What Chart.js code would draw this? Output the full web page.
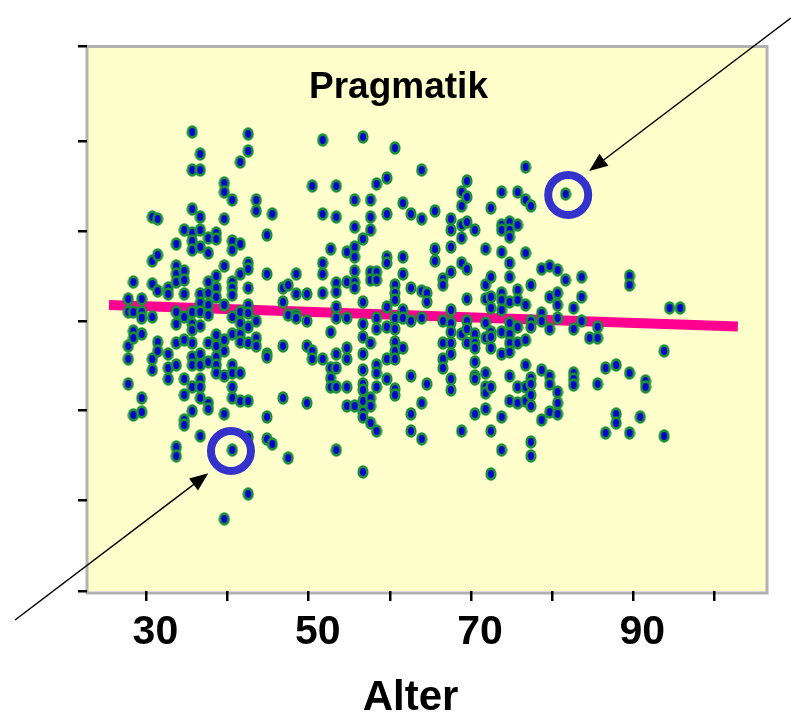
<!DOCTYPE html>
<html>
<head>
<meta charset="utf-8">
<title>Pragmatik</title>
<script src="https://cdn.jsdelivr.net/npm/chart.js@4"></script>
<style>
  html, body { margin: 0; padding: 0; background: #fff; }
  canvas { display: block; }
</style>
</head>
<body>
<canvas id="chartPragmatik" width="791" height="713"></canvas>
<script>
const chartTitle = 'Pragmatik';
const xTitle = 'Alter';
const xTicks = [30, 40, 50, 60, 70, 80, 90, 100];
const xLabels = [30, 50, 70, 90];
const yTicks = [0, 9.1, 18.1, 27, 36, 45, 54.5];

const ages = [27.77, 28.39, 29.42, 30.73, 31.39, 32.7, 33.68, 34.67, 35.65, 36.64, 37.63, 38.61, 39.6, 40.58, 41.57, 42.55, 43.54, 44.86, 45.51, 46.83, 47.48, 48.47, 49.79, 50.44, 51.72, 52.71, 53.4, 54.71, 55.66, 56.69, 57.63, 58.37, 59.64, 60.63, 61.61, 62.6, 63.92, 64.57, 65.56, 66.54, 67.53, 68.84, 69.5, 70.48, 71.8, 72.45, 73.77, 74.76, 75.74, 76.73, 77.38, 78.7, 79.69, 80.67, 81.66, 82.64, 83.63, 84.61, 85.6, 86.58, 87.89, 89.54, 90.85, 91.51, 93.8, 94.47, 95.78];
const scores = [
  [29.2, 27.9, 24.5, 23.2, 20.7],
  [30.9, 27.9, 26.0, 25.3, 17.6],
  [29.2, 27.9, 27.3, 25.7, 19.3, 17.9],
  [37.4, 33.0, 30.7, 27.4, 23.2, 22.1],
  [37.2, 33.6, 30.0, 24.9, 24.0],
  [30.3, 29.7, 23.7, 22.3, 21.2],
  [34.7, 32.5, 31.7, 30.9, 27.9, 26.7, 24.8, 22.6, 14.4, 13.5],
  [36.1, 32.0, 31.1, 29.7, 27.4, 25.1, 21.2, 19.6, 17.1, 16.6],
  [45.9, 42.1, 38.2, 35.8, 35.0, 34.1, 27.9, 26.7, 26.1, 24.8, 23.4, 22.6, 20.4, 18.0],
  [43.7, 42.1, 37.4, 36.1, 34.4, 29.7, 28.8, 27.9, 26.5, 23.7, 22.6, 21.2, 20.4, 19.3, 15.5],
  [35.3, 33.8, 30.9, 29.8, 28.6, 27.6, 24.8, 22.9, 18.8, 18.2],
  [35.8, 35.2, 31.5, 30.3, 29.4, 25.6, 24.5, 23.4, 22.6, 21.8],
  [40.8, 39.9, 37.2, 32.5, 28.6, 25.1, 24.0, 21.5, 17.7, 7.2],
  [39.1, 35.0, 34.1, 30.9, 30.3, 29.6, 27.4, 25.7, 22.6, 21.8, 20.4, 19.3, 14.1],
  [42.9, 34.7, 31.7, 27.9, 26.8, 25.7, 24.9, 21.8, 19.0],
  [45.7, 44.0, 32.8, 32.2, 30.3, 28.6, 27.8, 26.4, 24.8, 19.0, 15.4, 9.7],
  [39.1, 38.0, 27.0, 25.3, 24.5],
  [35.6, 31.7, 23.7, 23.4, 17.4, 15.2],
  [37.7, 14.7],
  [30.3, 28.9, 24.5, 19.3],
  [30.6, 27.6, 13.3],
  [31.7, 29.7, 27.6, 27.3],
  [29.7, 27.0, 24.5, 18.8],
  [40.5, 24.0, 23.2],
  [45.1, 37.7, 32.8, 31.7, 29.8, 23.2],
  [34.2, 25.9, 22.3, 21.3, 20.4],
  [40.5, 37.4, 30.8, 29.9, 28.4, 27.3, 23.7, 22.3, 20.4, 14.1],
  [33.9, 30.9, 27.3, 24.3, 23.2, 20.4, 18.5],
  [39.1, 36.4, 34.4, 33.4, 32.0, 30.9, 30.3, 18.5],
  [45.4, 35.2, 28.9, 26.7, 25.4, 23.7, 22.1, 20.7, 20.1, 19.0, 17.9, 17.4, 11.9],
  [39.1, 37.4, 36.1, 31.9, 31.1, 24.8, 19.3, 18.5, 16.8],
  [40.7, 31.9, 31.1, 27.3, 26.2, 22.6, 21.8, 20.4, 16.0],
  [41.3, 37.7, 33.4, 32.8, 28.4, 26.4, 23.2, 21.2],
  [44.3, 30.6, 29.8, 29.1, 27.3, 26.2, 24.9, 24.0, 23.2, 20.2, 19.6],
  [38.8, 33.4, 31.7, 28.1, 27.3, 24.3],
  [37.7, 30.3, 27.0, 21.5, 17.7, 16.0],
  [42.1, 37.2, 30.0, 27.3, 18.8, 15.2],
  [29.8, 28.9, 20.7],
  [38.0, 34.2, 33.0],
  [31.2, 30.6, 27.0, 24.8, 23.2, 22.3],
  [37.2, 36.1, 34.4, 31.9, 28.1, 26.8, 25.9, 24.8, 23.7, 21.2, 20.1],
  [39.9, 38.5, 36.6, 35.3, 32.8, 25.7, 16.0],
  [41.0, 39.4, 36.9, 32.2, 29.2, 27.0, 26.2, 24.8],
  [36.1, 25.7, 24.8, 24.3, 22.9, 21.5, 21.2, 17.7],
  [34.2, 30.6, 29.2, 26.8, 25.3, 21.8, 20.4, 19.8, 18.2],
  [38.3, 31.4, 29.4, 28.3, 25.9, 25.4, 24.3, 20.4, 16.0, 11.7],
  [39.9, 36.6, 36.1, 33.9, 29.8, 29.1, 28.1, 25.9, 23.7, 17.4, 14.1],
  [36.9, 36.1, 35.4, 32.8, 31.4, 28.9, 26.8, 25.7, 24.8, 23.9, 21.5, 19.0],
  [39.9, 36.6, 30.1, 29.1, 26.4, 24.8, 20.4, 18.8],
  [42.4, 39.1, 33.8, 28.6, 25.1, 22.6, 20.4, 19.0],
  [38.5, 30.6, 27.0, 26.4, 21.3, 20.7, 19.6, 18.5, 14.9, 13.5],
  [32.2, 27.8, 27.0, 22.1, 17.1],
  [32.5, 29.4, 26.2, 21.5, 20.7, 17.9],
  [32.1, 29.8, 28.6, 27.3, 19.9, 18.8, 17.7],
  [39.7, 31.1],
  [28.3, 26.2, 21.8, 21.2, 20.6],
  [31.4, 29.4, 27.0],
  [25.3],
  [26.4, 25.3, 20.7],
  [22.3, 15.8],
  [22.6, 17.7, 16.8],
  [31.5, 30.6, 21.8, 15.8],
  [17.4],
  [21.0, 20.4],
  [24.0, 15.5],
  [28.3],
  [28.3]
];

const trendAges = [25.39, 102.88];
const trendScores = [28.6, 26.45];
const ringAges = [81.98, 40.42];
const ringScores = [39.6, 14.0];
// arrows: [tail age, tail score, tip age, tip score]
const arrows = [
  [109.41, 57.3, 84.56, 42.0],
  [13.81, -2.9, 37.63, 11.77]
];

const punkte = ages.flatMap((a, i) => scores[i].map(s => ({ x: a, y: s })));

// dots are slightly taller than wide in the original
const dot = document.createElement('canvas');
dot.width = 12;
dot.height = 14;
const dc = dot.getContext('2d');
dc.fillStyle = '#1c8f3c';
dc.beginPath();
dc.ellipse(6, 7, 5.6, 6.7, 0, 0, Math.PI * 2);
dc.fill();
dc.fillStyle = '#0000d0';
dc.beginPath();
dc.ellipse(6, 7, 2.9, 3.9, 0, 0, Math.PI * 2);
dc.fill();

const rahmen = {
  id: 'rahmen',
  beforeDraw(chart) {
    const { ctx, chartArea: a } = chart;
    ctx.save();
    ctx.fillStyle = '#ffffcc';
    ctx.fillRect(a.left, a.top, a.width, a.height);
    ctx.strokeStyle = '#b2b2b2';
    ctx.lineWidth = 3;
    ctx.strokeRect(a.left, a.top + 0.5, a.width - 1, a.height + 1.5);
    ctx.restore();
  },
  afterDraw(chart) {
    const { ctx, scales: { x, y } } = chart;
    ctx.save();
    ctx.strokeStyle = '#000';
    ctx.fillStyle = '#000';
    ctx.lineWidth = 1.5;
    arrows.forEach(([a0, s0, a1, s1]) => {
      const x0 = x.getPixelForValue(a0), y0 = y.getPixelForValue(s0);
      const x1 = x.getPixelForValue(a1), y1 = y.getPixelForValue(s1);
      const ang = Math.atan2(y1 - y0, x1 - x0);
      ctx.beginPath();
      ctx.moveTo(x0, y0);
      ctx.lineTo(x1 - 12 * Math.cos(ang), y1 - 12 * Math.sin(ang));
      ctx.stroke();
      ctx.beginPath();
      ctx.moveTo(x1, y1);
      ctx.lineTo(x1 - 20 * Math.cos(ang - 0.38), y1 - 20 * Math.sin(ang - 0.38));
      ctx.lineTo(x1 - 20 * Math.cos(ang + 0.38), y1 - 20 * Math.sin(ang + 0.38));
      ctx.closePath();
      ctx.fill();
    });
    ctx.textAlign = 'center';
    ctx.textBaseline = 'alphabetic';
    ctx.font = 'bold 37px "Liberation Sans", Arial, sans-serif';
    ctx.fillText(chartTitle, 398.5, 98);
    ctx.font = 'bold 42px "Liberation Sans", Arial, sans-serif';
    ctx.fillText(xTitle, 410.5, 710);
    ctx.restore();
  }
};

new Chart(document.getElementById('chartPragmatik'), {
  type: 'scatter',
  data: {
    datasets: [
      {
        label: 'Markiert',
        data: ringAges.map((a, i) => ({ x: a, y: ringScores[i] })),
        order: 0,
        pointStyle: 'circle',
        pointRadius: 20,
        pointBorderWidth: 8,
        pointBorderColor: '#3333cc',
        pointBackgroundColor: 'transparent'
      },
      {
        label: 'Pragmatik',
        data: punkte,
        order: 1,
        pointStyle: dot
      },
      {
        label: 'Trend',
        data: trendAges.map((a, i) => ({ x: a, y: trendScores[i] })),
        order: 2,
        showLine: true,
        pointRadius: 0,
        borderColor: '#ff0090',
        borderWidth: 10
      }
    ]
  },
  plugins: [rahmen],
  options: {
    responsive: false,
    animation: false,
    layout: { autoPadding: false, padding: { top: 46, right: 23, bottom: 0, left: 0 } },
    plugins: { legend: { display: false }, tooltip: { enabled: false } },
    scales: {
      x: {
        type: 'linear',
        min: 22.68,
        max: 106.6,
        afterFit(s) { s.height = 122; s.paddingLeft = 0; s.paddingRight = 0; },
        afterBuildTicks(s) { s.ticks = xTicks.map(v => ({ value: v })); },
        border: { display: false },
        grid: { drawOnChartArea: false, color: '#000', lineWidth: 2.5, tickLength: 10 },
        ticks: {
          autoSkip: false,
          maxRotation: 0,
          padding: 7,
          labelOffset: 9,
          color: '#000',
          font: { family: '"Liberation Sans", Arial, sans-serif', size: 41, weight: 'bold' },
          callback: v => xLabels.includes(v) ? String(v) : ''
        }
      },
      y: {
        type: 'linear',
        min: 0,
        max: 54.5,
        afterFit(s) { s.width = 87; },
        afterBuildTicks(s) { s.ticks = yTicks.map(v => ({ value: v })); },
        border: { display: false },
        grid: { drawOnChartArea: false, color: '#000', lineWidth: 2.5, tickLength: 9 },
        ticks: { display: false }
      }
    }
  }
});
</script>
</body>
</html>
